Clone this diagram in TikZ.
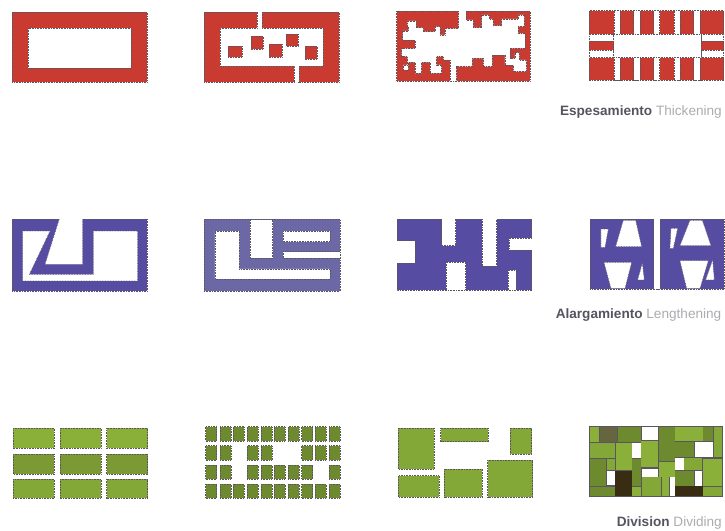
\documentclass[tikz,border=0pt]{standalone}
\usepackage{fontspec}
\setmainfont{Liberation Sans}
\usepackage{xcolor}
\definecolor{wallred}{HTML}{C93B30}
\definecolor{wallblue}{HTML}{564DA3}
\definecolor{wallgrey}{HTML}{6C68A6}
\definecolor{edgedark}{HTML}{5A5560}
\definecolor{blocklight}{HTML}{8AB03A}
\definecolor{blockmid}{HTML}{84A838}
\definecolor{blocksoft}{HTML}{7C9A34}
\definecolor{blockolive}{HTML}{6E8A2E}
\definecolor{blockgrey}{HTML}{65663F}
\definecolor{blockdark}{HTML}{382C12}
\definecolor{captiondark}{HTML}{55555F}
\definecolor{captionlight}{HTML}{ABABB0}

\begin{document}
\begin{tikzpicture}[x=1pt,y=-1pt,
plan/.style={draw=edgedark,densely dotted,line width=.6pt},
void/.style={plan,fill=white},
zoomed/.style={shift={#1},scale=.3333},
caption/.style={anchor=east,font=\fontsize{13.6}{15}\selectfont,inner sep=0pt}]
\useasboundingbox (0,0) rectangle (725,530);

% thickening
\fill[plan,fill=wallred] (12,12) rectangle (147,82);
\path[void] (28,28) rectangle (131,68);

\fill[plan,fill=wallred] (204,12) rectangle (339,82);
\path[void] (262,12)--(262,28)--(323,28)--(323,66)--(299,66)--(299,82)--(294,82)--(294,66)--(220,66)--(220,28)--(257,28)--(257,12);
\fill[white] (295,81) rectangle (298,83);
\foreach \x/\y/\xx/\yy in {228/46/242/57,251/36/263/49,269/44/282/57,286/34/298/46,305/46/317/59}
  \fill[plan,fill=wallred] (\x,\y) rectangle (\xx,\yy);

\begin{scope}[zoomed={(390,5)}]
\fill[plan,fill=wallred] (20,18) rectangle (420,228);
\path[void] (228,18)--(228,45)--(250,45)--(250,68)--(275,68)--(275,30)--(298,30)--(298,42)--(310,42)--(310,62)--(335,62)--(335,42)--(385,42)--(385,30)--(403,30)--(403,65)--(385,65)--(385,85)--(405,85)--(405,130)--(360,130)--(360,160)--(375,160)--(375,143)--(388,143)--(388,165)--(410,165)--(410,200)--(370,200)--(370,180)--(345,180)--(345,150)--(307,150)--(307,185)--(280,185)--(280,160)--(247,160)--(247,185)--(200,185)--(200,228)--(180,228)--(180,165)--(160,165)--(160,155)--(140,155)--(140,180)--(155,180)--(155,205)--(120,205)--(120,172)--(95,172)--(95,205)--(75,205)--(75,172)--(55,172)--(55,195)--(40,195)--(40,180)--(52,180)--(52,155)--(35,155)--(35,130)--(75,130)--(75,105)--(38,105)--(38,78)--(55,78)--(55,65)--(52,65)--(52,48)--(78,48)--(78,68)--(100,68)--(100,80)--(135,80)--(135,65)--(150,65)--(150,90)--(165,90)--(165,70)--(205,70)--(205,18);
\end{scope}

\begin{scope}[zoomed={(582,5)}]
\fill[plan,fill=wallred] (22,17) rectangle (425,225);
\foreach \x/\xx in {97/115,155/175,215/233,277/295,335/355}{
  \path[void] (\x,17)--(\x,225)--(\xx,225)--(\xx,17);
}
\foreach \x/\xx in {22/95,358/425}{
  \path[void] (\x,88) rectangle (\xx,108);
  \path[void] (\x,135) rectangle (\xx,158);
}
\path[void] (95,88) rectangle (358,158);
\end{scope}
\node[caption] (thickening) at (722,112) {{\bfseries\color{captiondark}Espesamiento} {\color{captionlight}Thickening}};

% lengthening
\begin{scope}[zoomed={(0,205)}]
\fill[plan,fill=wallblue] (37,42) rectangle (442,258);
\path[void] (178,42)--(135,178)--(248,178)--(248,42);
\path[void] (68,78)--(150,78)--(88,208)--(280,208)--(280,78)--(413,78)--(413,228)--(68,228)--cycle;
\fill[plan,fill=wallgrey] (612,42) rectangle (1020,258);
\path[void] (645,78)--(718,78)--(718,192)--(990,192)--(990,222)--(645,222)--cycle;
\path[void] (750,45)--(750,160)--(818,160)--(818,45);
\path[void] (850,78)--(990,78)--(990,110)--(850,110)--cycle;
\path[void] (1020,140)--(850,140)--(850,160)--(1020,160);
\end{scope}

\begin{scope}[zoomed={(365,205)}]
\fill[plan,fill=wallblue] (97,42) rectangle (500,255);
\path[void] (97,107)--(150,107)--(150,175)--(97,175);
\path[void] (230,42)--(230,122)--(272,122)--(272,42);
\path[void] (352,42)--(352,183)--(395,183)--(395,42);
\path[void] (243,255)--(243,172)--(302,172)--(302,255);
\path[void] (500,100)--(433,100)--(433,135)--(500,135);
\path[void] (430,255)--(430,195)--(453,195)--(453,255);
\fill[plan,fill=wallblue] (675,42) rectangle (1078,252);
\path[void] (866,42)--(866,252)--(886,252)--(886,42);
\foreach \ax/\ay/\bx/\by/\cx/\cy/\dx/\dy in {708/72/730/72/720/127/708/127,
  775/46/812/46/830/125/752/125,717/172/800/172/780/250/738/250,
  918/70/938/70/925/130/915/130,975/46/1012/46/1038/122/945/122,
  945/167/1030/167/1005/250/965/250}
  \path[void] (\ax,\ay)--(\bx,\by)--(\cx,\cy)--(\dx,\dy)--cycle;
\path[void] (832,175)--(838,225)--(818,225)--cycle;
\path[void] (1043,165)--(1048,225)--(1022,225)--cycle;
\end{scope}
\node[caption] (lengthening) at (721.5,315) {{\bfseries\color{captiondark}Alargamiento} {\color{captionlight}Lengthening}};

% dividing
\begin{scope}[zoomed={(0,415)}]
\foreach \x/\xx in {40/163,180/303,320/443}{
  \fill[plan,fill=blocklight] (\x,40) rectangle (\xx,100);
  \fill[plan,fill=blocksoft] (\x,117) rectangle (\xx,177);
  \fill[plan,fill=blockmid] (\x,192) rectangle (\xx,250);
}
\foreach \x in {617,660,700,742,783,822,865,905,945,987}{
  \fill[plan,fill=blockolive] (\x,35) rectangle (\x+33,78);
  \fill[plan,fill=blockolive] (\x,207) rectangle (\x+33,250);
}
\foreach \x in {617,660,742,783,905,945,987}
  \fill[plan,fill=blockolive] (\x,92) rectangle (\x+33,135);
\foreach \x in {617,660,742,783,822,865,905,987}
  \fill[plan,fill=blockolive] (\x,150) rectangle (\x+33,193);
\end{scope}

\begin{scope}[zoomed={(365,415)}]
\foreach \x/\y/\xx/\yy in {100/40/208/162,227/40/370/80,435/40/500/117,100/182/222/247,237/163/352/247,368/135/503/247}
  \fill[plan,fill=blockmid] (\x,\y) rectangle (\xx,\yy);
\end{scope}

\begin{scope}[zoomed={(582,420)}]
\fill[edgedark] (22,18) rectangle (422,230);
\foreach \x/\y/\xx/\yy/\tone in {25/20/52/65/blocklight,55/20/105/65/blockgrey,107/20/178/65/blockolive,
  180/20/228/60/white,230/20/278/122/blockolive,280/20/305/62/blocklight,307/20/362/62/blocklight,
  364/20/393/62/blockolive,395/20/420/112/blockmid,25/70/100/115/blockmid,103/70/150/150/blocklight,
  150/70/178/115/white,178/62/228/142/blocklight,280/65/335/112/blockolive,338/67/393/112/white,
  25/118/73/197/blockolive,75/118/100/150/blockmid,150/118/178/198/blockolive,278/115/305/150/white,
  307/115/360/150/blockmid,362/117/420/197/blocklight,230/127/278/170/blocklight,180/147/228/170/white,
  75/153/100/195/white,100/153/150/228/blockdark,280/153/335/197/blockolive,338/153/360/197/white,
  25/200/100/228/blockolive,150/200/178/228/blocklight,180/172/238/228/blockmid,240/172/262/228/blocklight,
  263/172/280/228/white,280/197/362/228/blockdark,364/200/420/228/blockmid}
  \fill[fill=\tone] (\x,\y) rectangle (\xx,\yy);
\end{scope}
\node[caption] (dividing) at (722,523) {{\bfseries\color{captiondark}Division} {\color{captionlight}Dividing}};
\end{tikzpicture}
\end{document}
